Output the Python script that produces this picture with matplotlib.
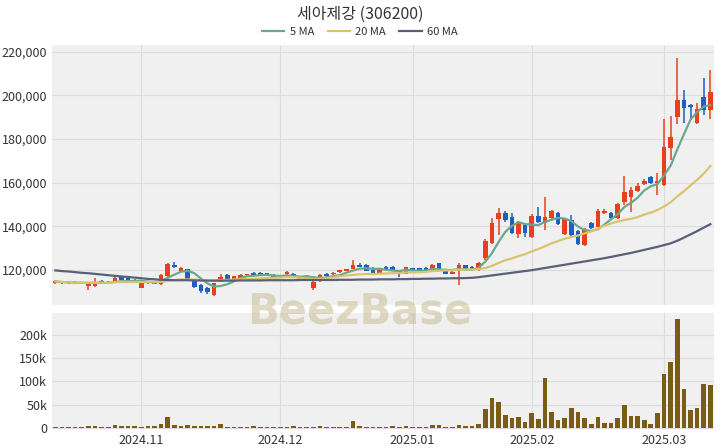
"""
세아제강 (306200) daily candles with 5/20/60 MA and volume, BeezBase style.

Writes out.png (720x448).
"""

import matplotlib
matplotlib.use("Agg")
import matplotlib.pyplot as plt
import numpy as np
import pandas as pd
from matplotlib.ticker import FuncFormatter

plt.rcParams["font.family"] = ["Noto Sans CJK KR", "DejaVu Sans"]

# ---------------------------------------------------------------------------
# Data (won / shares)
# ---------------------------------------------------------------------------

opens = [
    113800, 114600, 114600, 114500, 114300, 112500, 112500, 114800, 114500, 114800,
    117000, 116500, 115500, 111900, 113800, 114300, 113500, 117200, 122500, 119600,
    120300, 114800, 113000, 111800, 108600, 114600, 117500, 116000, 116500, 117600,
    118800, 118500, 118400, 117800, 117100, 118000, 118200, 116800, 116200, 111800,
    115000, 118100, 118000, 119000, 119700, 120600, 122200, 122300, 120900, 118200,
    121500, 121400, 119600, 118200, 120700, 120700, 121100, 120000, 123000, 120000,
    118300, 119700, 122100, 121400, 120000, 125500, 132400, 143500, 146000, 144300,
    136500, 140600, 135200, 144800, 141600, 143900, 146100, 136500, 143000, 137900,
    131500, 141500, 139900, 146200, 146100, 144000, 151200, 153500, 156200, 159400,
    162600, 160000, 159000, 176000, 190200, 198000, 195700, 187400, 199400, 193400,
]
highs = [
    115200, 115000, 114900, 114800, 114700, 114500, 116500, 115200, 114900, 116600,
    117400, 116900, 115800, 114300, 114800, 114600, 118000, 123000, 123500, 121500,
    120600, 115200, 113400, 112200, 114200, 118000, 118000, 117400, 118200, 118300,
    119200, 118900, 118800, 118100, 117600, 119400, 118600, 117200, 117700, 114900,
    118000, 118500, 119000, 120000, 120600, 124600, 123000, 122600, 121200, 121100,
    121800, 121700, 120000, 121500, 121000, 121000, 121400, 122700, 123300, 120300,
    119400, 123000, 122500, 122000, 123500, 134000, 144000, 148600, 146800, 146000,
    142500, 141200, 145500, 149000, 153500, 147500, 146500, 143800, 145000, 138500,
    139200, 142000, 147800, 147800, 146500, 150800, 163000, 158000, 160000, 161500,
    163000, 164500, 189000, 190500, 217000, 202600, 196000, 196500, 208000, 211700,
]
lows = [
    113500, 113700, 113700, 113600, 113500, 110800, 112000, 113700, 113500, 114500,
    115200, 114800, 114300, 111600, 113500, 113400, 113000, 117000, 121000, 119000,
    115400, 111700, 109600, 109000, 108200, 114300, 115700, 115800, 116300, 117300,
    117500, 117300, 117200, 116200, 116500, 117700, 116300, 115600, 116000, 111000,
    114700, 117000, 117700, 118700, 119400, 120300, 121200, 119500, 118000, 118000,
    119800, 119600, 117000, 118000, 119000, 119400, 119500, 119800, 120000, 118000,
    118000, 113200, 120200, 119800, 119500, 124500, 132000, 136000, 142000, 136500,
    134500, 135000, 134800, 141500, 138300, 143500, 140500, 136000, 134500, 131500,
    131000, 139000, 139500, 145500, 143500, 143500, 150000, 146500, 155800, 159000,
    159600, 154400, 158400, 170500, 187000, 187500, 188800, 187000, 191000, 189000,
]
closes = [
    114800, 114100, 114000, 113900, 113800, 114200, 114600, 114000, 113800, 116200,
    115500, 115000, 114500, 114000, 114300, 113600, 117600, 122600, 121200, 121000,
    115800, 112000, 110400, 110000, 113800, 117000, 116000, 117100, 117800, 118000,
    117800, 117600, 117500, 116400, 116800, 119000, 116500, 115800, 117400, 114600,
    117600, 117300, 118800, 119800, 120400, 122400, 121500, 119700, 118300, 120800,
    120000, 119800, 118600, 121200, 119300, 119600, 119700, 122400, 120300, 118300,
    119100, 122300, 120400, 120200, 123200, 133300, 141500, 146100, 143000, 137000,
    142000, 137000, 144800, 142000, 144300, 147000, 141100, 143400, 136000, 132000,
    138800, 139300, 147200, 147000, 144000, 150300, 155800, 156700, 158500, 160800,
    160000, 160900, 176400, 181000, 198000, 194300, 194800, 193900, 193400, 201700,
]
volumes_k = [
    2, 1.5, 1.5, 1.5, 2, 3.6, 3.6, 1.5, 2, 5.8,
    3, 3, 3, 1.5, 3.6, 3.6, 8.7, 23, 6, 4,
    5, 3.6, 3.6, 3.6, 4.4, 7.3, 1.5, 1.5, 1.5, 2,
    3, 1.5, 1.5, 1.5, 1.5, 2, 3.6, 1.5, 1.5, 2,
    4.4, 1.5, 2, 1.5, 2, 14.5, 3.6, 1.5, 2, 2,
    1.5, 3.6, 1.5, 3.6, 1.5, 2, 1.5, 5.8, 5.8, 2,
    2, 5, 4.4, 3, 8.7, 41.5, 64, 54.5, 27, 21.8,
    24, 13, 32.7, 18, 107.6, 34, 17.5, 21.8, 43.6, 35,
    21.8, 7.3, 23, 10, 10, 21, 49.5, 26, 26, 16.7,
    7.3, 32.7, 116, 142, 234, 84.4, 37.8, 43.6, 94.5, 93,
]
ma60_k = [
    119.8, 119.5, 119.3, 119.0, 118.7, 118.5, 118.2, 117.9, 117.6, 117.3,
    117.0, 116.8, 116.5, 116.2, 115.9, 115.7, 115.5, 115.4, 115.3, 115.3,
    115.3, 115.2, 115.2, 115.1, 115.1, 115.1, 115.1, 115.1, 115.2, 115.2,
    115.2, 115.2, 115.3, 115.3, 115.3, 115.3, 115.3, 115.4, 115.4, 115.4,
    115.4, 115.4, 115.4, 115.5, 115.5, 115.5, 115.6, 115.6, 115.6, 115.7,
    115.7, 115.7, 115.8, 115.8, 115.9, 115.9, 116.0, 116.0, 116.1, 116.1,
    116.2, 116.2, 116.3, 116.4, 116.7, 117.1, 117.5, 117.9, 118.3, 118.7,
    119.1, 119.5, 119.9, 120.4, 120.9, 121.4, 121.9, 122.4, 122.9, 123.4,
    123.9, 124.4, 124.9, 125.4, 126.0, 126.6, 127.2, 127.8, 128.5, 129.2,
    129.9, 130.6, 131.4, 132.2, 133.4, 134.8, 136.3, 137.8, 139.4, 141.0,
]

month_labels = ["2024.11", "2024.12", "2025.01", "2025.02", "2025.03"]
month_index = [13, 34, 54, 72, 92]   # first trading day of each month

TITLE = "세아제강 (306200)"

UP = "#e8401c"
DOWN = "#1f5fc4"
MA_COLORS = {"5 MA": "#6aa88e", "20 MA": "#d9c46e", "60 MA": "#5b6079"}
VOL_COLOR = "#7a5c14"
BG = "#f0f0f0"
GRID = "#dddddd"


def main() -> None:
    df = pd.DataFrame({"o": opens, "h": highs, "l": lows, "c": closes})
    x = np.arange(len(df))
    ma5 = df["c"].rolling(5, min_periods=1).mean()
    ma20 = df["c"].rolling(20, min_periods=1).mean()
    ma60 = np.array(ma60_k) * 1000

    fig = plt.figure(figsize=(7.2, 4.48), dpi=100)
    ax = fig.add_axes([0.0722, 0.319, 0.919, 0.581])
    axv = fig.add_axes([0.0722, 0.042, 0.919, 0.259], sharex=ax)

    for a in (ax, axv):
        a.set_facecolor(BG)
        for s in a.spines.values():
            s.set_visible(False)
        a.grid(True, color=GRID, linewidth=0.8)
        a.set_axisbelow(True)
        a.tick_params(length=0, labelsize=9, colors="#333333")

    # --- candles -------------------------------------------------------
    up = df["c"] >= df["o"]
    colors = np.where(up, UP, DOWN)
    ax.vlines(x, df["l"], df["h"], colors=colors, linewidth=1.1, zorder=3)
    body_lo = np.minimum(df["o"], df["c"])
    body_h = np.maximum(np.abs(df["c"] - df["o"]), 300)
    ax.bar(x, body_h, bottom=body_lo, width=0.7, color=colors, zorder=4)

    ax.plot(x, ma5, color=MA_COLORS["5 MA"], lw=1.6, label="5 MA", zorder=5)
    ax.plot(x, ma20, color=MA_COLORS["20 MA"], lw=1.6, label="20 MA", zorder=5)
    ax.plot(x, ma60, color=MA_COLORS["60 MA"], lw=1.6, label="60 MA", zorder=5)

    ax.set_ylim(103900, 223200)
    ax.set_yticks([120000, 140000, 160000, 180000, 200000, 220000])
    ax.yaxis.set_major_formatter(FuncFormatter(lambda v, _: f"{v:,.0f}"))
    ax.tick_params(axis="x", labelbottom=False)

    # --- volume --------------------------------------------------------
    axv.bar(x, np.array(volumes_k) * 1000, width=0.7, color=VOL_COLOR, zorder=3)
    axv.set_ylim(-3000, 247000)
    axv.set_yticks([0, 50000, 100000, 150000, 200000])
    axv.yaxis.set_major_formatter(
        FuncFormatter(lambda v, _: "0" if v == 0 else f"{v / 1000:.0f}k"))
    axv.set_xlim(-0.5, len(df) - 0.5)
    axv.set_xticks(month_index)
    axv.set_xticklabels(month_labels)

    # --- title, legend, watermark ---------------------------------------
    fig.text(0.5, 0.968, TITLE, ha="center", va="center", fontsize=11.5, color="#333333")
    fig.legend(loc="center", bbox_to_anchor=(0.5, 0.929), ncol=3, frameon=False,
               fontsize=8, handlelength=2.0, columnspacing=1.2, handletextpad=0.5,
               labelcolor="#333333")
    fig.text(0.5, 0.305, "BeezBase", ha="center", va="center", fontsize=30,
             fontweight="bold", color="#c8bc96", alpha=0.55, family="DejaVu Sans")

    fig.savefig("out.png", dpi=100)
    plt.close(fig)


if __name__ == "__main__":
    main()
